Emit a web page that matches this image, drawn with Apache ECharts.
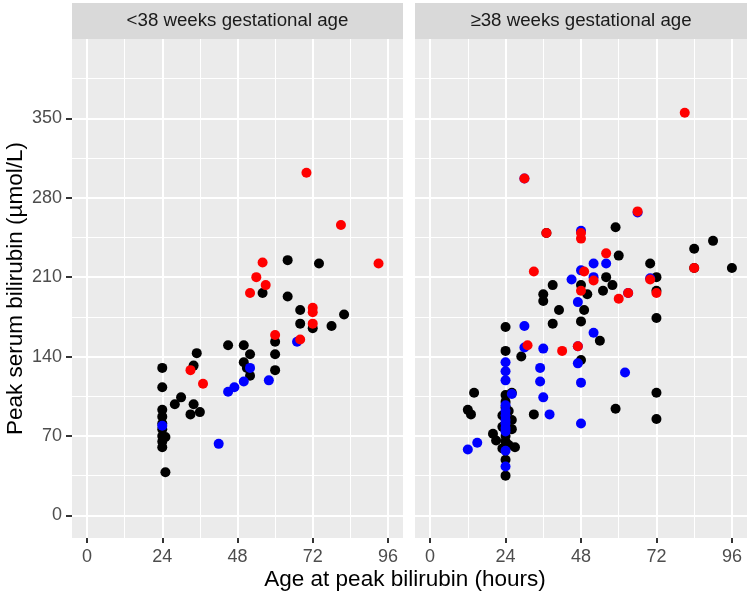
<!DOCTYPE html>
<html>
<head>
<meta charset="utf-8">
<script src="https://cdn.jsdelivr.net/npm/echarts@6/dist/echarts.min.js"></script>
<style>
html,body{margin:0;padding:0;background:#fff;}
#chart{width:750px;height:597px;}
</style>
</head>
<body>
<div id="chart"></div>
<script>
// ---- data: [hours, bilirubin µmol/L] ----
const facetTitles = ['<38 weeks gestational age', '\u226538 weeks gestational age'];
const xTicks = [0, 24, 48, 72, 96];
const xMinor = [12, 36, 60, 84];
const yTicks = [0, 70, 140, 210, 280, 350];
const yMinor = [35, 105, 175, 245, 315, 385];

const pretermBlack = [
  [24,130],[24,113],[24,93],[24,87],[24,81],[24,76],[24,70],[24,65],[24,60],[25,69],[25,38],
  [28,98],[30,104],[33,89],[34,98],[36,91],[34,132],[35,143],
  [45,150],[50,150],[50,135],[51,130],[52,123],[52,142],[60,142],[60,128],[60,153],
  [56,196],[64,193],[64,225],[74,222],[68,181],[68,169],[72,165],[78,167],[82,177]
];
const pretermBlue = [
  [24,79],[42,63],[45,109],[47,113],[50,118],[52,130],[58,119],[67,153]
];
const pretermRed = [
  [33,128],[37,116],[52,196],[54,210],[56,223],[57,203],[60,159],[68,155],
  [72,183],[72,179],[72,169],[70,302],[81,256],[93,222]
];

const termBlack = [
  [12,93],[13,89],[14,108],[20,72],[21,66],[23,59],[24,35],[24,49],[24,60],[24,65],[24,70],
  [24,75],[24,80],[24,85],[24,90],[24,95],[24,100],[24,106],[24,145],[24,166],[25,62],
  [26,108],[27,60],[23,88],[26,84],[26,76],[23,78],[25,92],[29,140],[33,89],[36,195],[36,189],
  [39,203],[39,169],[41,181],[48,171],[48,137],[48,203],[49,181],[50,195],[54,154],[55,198],
  [56,210],[58,203],[59,254],[60,229],[59,94],[70,222],[72,210],[72,198],[72,174],[72,108],
  [72,85],[84,235],[90,242],[96,218],[37,249],[84,218]
];
const termBlue = [
  [12,58],[15,64],[24,43],[24,57],[24,74],[24,77],[24,81],[24,84],[24,88],[24,92],[24,97],
  [24,119],[24,127],[24,135],[26,107],[30,167],[30,148],[30,297],[35,130],[35,118],[36,147],
  [36,104],[38,89],[45,208],[47,188],[47,134],[48,117],[48,81],[48,216],[48,251],[52,222],
  [52,210],[52,161],[56,222],[62,126],[63,196],[66,267],[70,209],[47,149]
];
const termRed = [
  [30,297],[31,150],[33,215],[37,249],[42,145],[47,149],[48,249],[48,244],[48,198],[49,215],
  [52,207],[56,231],[60,191],[63,196],[66,268],[70,208],[72,196],[81,355],[84,218]
];

// ---- layout / style ----
const panels = [{left:72, width:331}, {left:415, width:332}];
const TOP = 39, HEIGHT = 499;
const XMIN = -4.8, XMAX = 100.8, YMIN = -20, YMAX = 420;
const FONT = 'Liberation Sans, Arial, sans-serif';

const grids = panels.map(p => ({
  left: p.left, top: TOP, width: p.width, height: HEIGHT,
  show: true, backgroundColor: '#EBEBEB', borderWidth: 0, containLabel: false
}));

const xAxes = [], yAxes = [];
panels.forEach((p, i) => {
  // minor grid lines
  xAxes.push({
    type: 'value', gridIndex: i, min: XMIN, max: XMAX, position: 'bottom',
    axisLine: {show: false, onZero: false}, axisLabel: {show: false},
    axisTick: {show: false, customValues: xMinor},
    splitLine: {show: true, lineStyle: {color: '#FFFFFF', width: 1}}
  });
  yAxes.push({
    type: 'value', gridIndex: i, min: YMIN, max: YMAX, position: 'left',
    axisLine: {show: false, onZero: false}, axisLabel: {show: false},
    axisTick: {show: false, customValues: yMinor},
    splitLine: {show: true, lineStyle: {color: '#FFFFFF', width: 1}}
  });
});
panels.forEach((p, i) => {
  // major grid lines, ticks, labels
  xAxes.push({
    type: 'value', gridIndex: i, min: XMIN, max: XMAX, position: 'bottom',
    axisLine: {show: false, onZero: false},
    axisTick: {show: true, customValues: xTicks, length: 5, lineStyle: {color: '#333333', width: 2}},
    axisLabel: {show: true, customValues: xTicks, margin: 10, color: '#4D4D4D', fontSize: 18, fontFamily: FONT},
    splitLine: {show: true, lineStyle: {color: '#FFFFFF', width: 2}}
  });
  yAxes.push({
    type: 'value', gridIndex: i, min: YMIN, max: YMAX, position: 'left',
    axisLine: {show: false, onZero: false},
    axisTick: {show: i === 0, customValues: yTicks, length: 6, lineStyle: {color: '#333333', width: 2}},
    axisLabel: {show: i === 0, customValues: yTicks, margin: 10, color: '#4D4D4D', fontSize: 18, fontFamily: FONT},
    splitLine: {show: true, lineStyle: {color: '#FFFFFF', width: 2}}
  });
});

function sc(data, color, panel, z) {
  return {
    type: 'scatter', data: data, xAxisIndex: 2 + panel, yAxisIndex: 2 + panel,
    symbol: 'circle', symbolSize: 10, z: z, silent: true,
    itemStyle: {color: color, opacity: 1}
  };
}

const series = [
  sc(pretermBlack, '#000000', 0, 2), sc(pretermBlue, '#0000FF', 0, 3), sc(pretermRed, '#FF0000', 0, 4),
  sc(termBlack, '#000000', 1, 2), sc(termBlue, '#0000FF', 1, 3), sc(termRed, '#FF0000', 1, 4)
];

const graphic = [];
panels.forEach((p, i) => {
  graphic.push({
    type: 'rect', shape: {x: p.left, y: 3, width: p.width, height: 36},
    style: {fill: '#D9D9D9'}, silent: true
  });
  graphic.push({
    type: 'text', x: p.left + p.width / 2, y: 21,
    style: {text: facetTitles[i], fill: '#1A1A1A', fontSize: 18.7, fontFamily: FONT,
            textAlign: 'center', textVerticalAlign: 'middle'}, silent: true
  });
});
graphic.push({
  type: 'text', x: 405, y: 580,
  style: {text: 'Age at peak bilirubin (hours)', fill: '#000000', fontSize: 22.5, fontFamily: FONT,
          textAlign: 'center', textVerticalAlign: 'middle'}, silent: true
});
graphic.push({
  type: 'text', x: 15.5, y: 288.5, rotation: Math.PI / 2,
  style: {text: 'Peak serum bilirubin (\u00B5mol/L)', fill: '#000000', fontSize: 22.5, fontFamily: FONT,
          textAlign: 'center', textVerticalAlign: 'middle'}, silent: true
});

const chart = echarts.init(document.getElementById('chart'), null, {renderer: 'canvas'});
chart.setOption({
  animation: false,
  backgroundColor: '#FFFFFF',
  grid: grids,
  xAxis: xAxes,
  yAxis: yAxes,
  series: series,
  graphic: graphic
});
</script>
</body>
</html>
